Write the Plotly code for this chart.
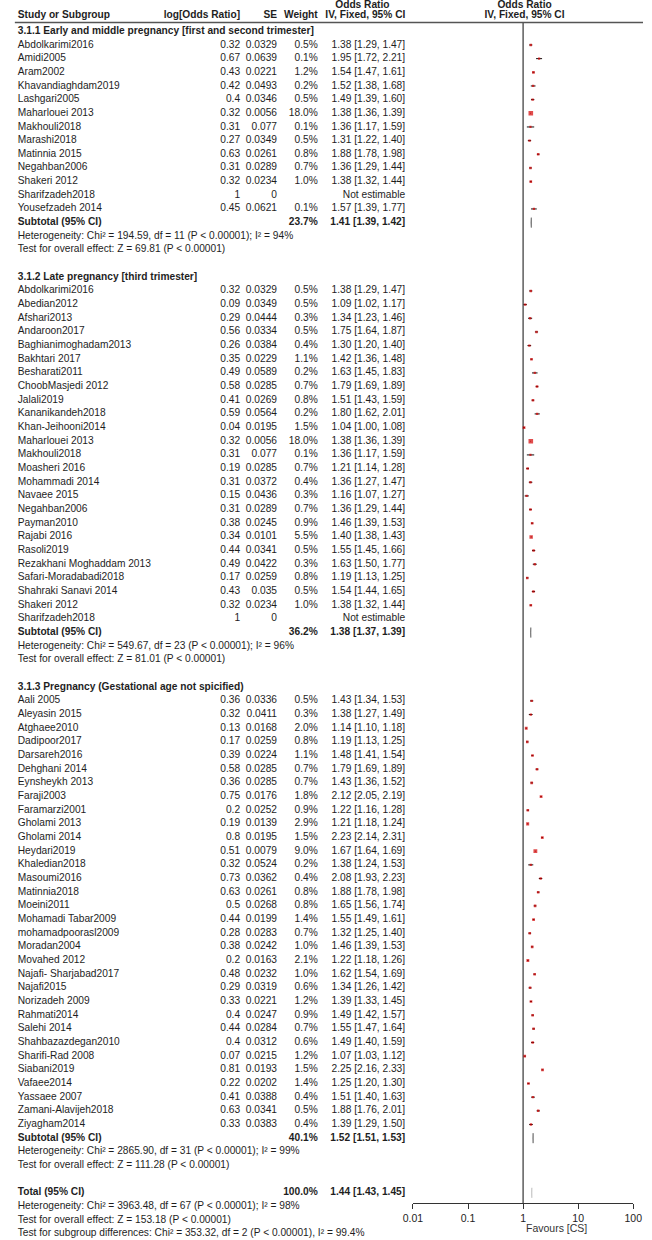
import plotly.graph_objects as go

W, H = 652, 1240

# ---------------- data ----------------
g1_title = "3.1.1 Early and middle pregnancy [first and second trimester]"
g1_study = ["Abdolkarimi2016", "Amidi2005", "Aram2002", "Khavandiaghdam2019", "Lashgari2005",
            "Maharlouei 2013", "Makhouli2018", "Marashi2018", "Matinnia 2015", "Negahban2006",
            "Shakeri 2012", "Sharifzadeh2018", "Yousefzadeh 2014"]
g1_logor = [0.32, 0.67, 0.43, 0.42, 0.4, 0.32, 0.31, 0.27, 0.63, 0.31, 0.32, 1, 0.45]
g1_se = [0.0329, 0.0639, 0.0221, 0.0493, 0.0346, 0.0056, 0.077, 0.0349, 0.0261, 0.0289, 0.0234, 0, 0.0621]
g1_weight = [0.5, 0.1, 1.2, 0.2, 0.5, 18.0, 0.1, 0.5, 0.8, 0.7, 1.0, None, 0.1]
g1_or = [1.38, 1.95, 1.54, 1.52, 1.49, 1.38, 1.36, 1.31, 1.88, 1.36, 1.38, None, 1.57]
g1_lo = [1.29, 1.72, 1.47, 1.38, 1.39, 1.36, 1.17, 1.22, 1.78, 1.29, 1.32, None, 1.39]
g1_hi = [1.47, 2.21, 1.61, 1.68, 1.60, 1.39, 1.59, 1.40, 1.98, 1.44, 1.44, None, 1.77]

g2_title = "3.1.2 Late pregnancy [third trimester]"
g2_study = ["Abdolkarimi2016", "Abedian2012", "Afshari2013", "Andaroon2017", "Baghianimoghadam2013",
            "Bakhtari 2017", "Besharati2011", "ChoobMasjedi 2012", "Jalali2019", "Kananikandeh2018",
            "Khan-Jeihooni2014", "Maharlouei 2013", "Makhouli2018", "Moasheri 2016", "Mohammadi 2014",
            "Navaee 2015", "Negahban2006", "Payman2010", "Rajabi 2016", "Rasoli2019",
            "Rezakhani Moghaddam 2013", "Safari-Moradabadi2018", "Shahraki Sanavi 2014", "Shakeri 2012",
            "Sharifzadeh2018"]
g2_logor = [0.32, 0.09, 0.29, 0.56, 0.26, 0.35, 0.49, 0.58, 0.41, 0.59, 0.04, 0.32, 0.31, 0.19, 0.31,
            0.15, 0.31, 0.38, 0.34, 0.44, 0.49, 0.17, 0.43, 0.32, 1]
g2_se = [0.0329, 0.0349, 0.0444, 0.0334, 0.0384, 0.0229, 0.0589, 0.0285, 0.0269, 0.0564, 0.0195, 0.0056,
         0.077, 0.0285, 0.0372, 0.0436, 0.0289, 0.0245, 0.0101, 0.0341, 0.0422, 0.0259, 0.035, 0.0234, 0]
g2_weight = [0.5, 0.5, 0.3, 0.5, 0.4, 1.1, 0.2, 0.7, 0.8, 0.2, 1.5, 18.0, 0.1, 0.7, 0.4, 0.3, 0.7, 0.9,
             5.5, 0.5, 0.3, 0.8, 0.5, 1.0, None]
g2_or = [1.38, 1.09, 1.34, 1.75, 1.30, 1.42, 1.63, 1.79, 1.51, 1.80, 1.04, 1.38, 1.36, 1.21, 1.36, 1.16,
         1.36, 1.46, 1.40, 1.55, 1.63, 1.19, 1.54, 1.38, None]
g2_lo = [1.29, 1.02, 1.23, 1.64, 1.20, 1.36, 1.45, 1.69, 1.43, 1.62, 1.00, 1.36, 1.17, 1.14, 1.27, 1.07,
         1.29, 1.39, 1.38, 1.45, 1.50, 1.13, 1.44, 1.32, None]
g2_hi = [1.47, 1.17, 1.46, 1.87, 1.40, 1.48, 1.83, 1.89, 1.59, 2.01, 1.08, 1.39, 1.59, 1.28, 1.47, 1.27,
         1.44, 1.53, 1.43, 1.66, 1.77, 1.25, 1.65, 1.44, None]

g3_title = "3.1.3 Pregnancy (Gestational age not spicified)"
g3_study = ["Aali 2005", "Aleyasin 2015", "Atghaee2010", "Dadipoor2017", "Darsareh2016", "Dehghani 2014",
            "Eynsheykh 2013", "Faraji2003", "Faramarzi2001", "Gholami 2013", "Gholami 2014", "Heydari2019",
            "Khaledian2018", "Masoumi2016", "Matinnia2018", "Moeini2011", "Mohamadi Tabar2009",
            "mohamadpoorasl2009", "Moradan2004", "Movahed 2012", "Najafi- Sharjabad2017", "Najafi2015",
            "Norizadeh 2009", "Rahmati2014", "Salehi 2014", "Shahbazazdegan2010", "Sharifi-Rad 2008",
            "Siabani2019", "Vafaee2014", "Yassaee 2007", "Zamani-Alavijeh2018", "Ziyagham2014"]
g3_logor = [0.36, 0.32, 0.13, 0.17, 0.39, 0.58, 0.36, 0.75, 0.2, 0.19, 0.8, 0.51, 0.32, 0.73, 0.63, 0.5,
            0.44, 0.28, 0.38, 0.2, 0.48, 0.29, 0.33, 0.4, 0.44, 0.4, 0.07, 0.81, 0.22, 0.41, 0.63, 0.33]
g3_se = [0.0336, 0.0411, 0.0168, 0.0259, 0.0224, 0.0285, 0.0285, 0.0176, 0.0252, 0.0139, 0.0195, 0.0079,
         0.0524, 0.0362, 0.0261, 0.0268, 0.0199, 0.0283, 0.0242, 0.0163, 0.0232, 0.0319, 0.0221, 0.0247,
         0.0284, 0.0312, 0.0215, 0.0193, 0.0202, 0.0388, 0.0341, 0.0383]
g3_weight = [0.5, 0.3, 2.0, 0.8, 1.1, 0.7, 0.7, 1.8, 0.9, 2.9, 1.5, 9.0, 0.2, 0.4, 0.8, 0.8, 1.4, 0.7, 1.0,
             2.1, 1.0, 0.6, 1.2, 0.9, 0.7, 0.6, 1.2, 1.5, 1.4, 0.4, 0.5, 0.4]
g3_or = [1.43, 1.38, 1.14, 1.19, 1.48, 1.79, 1.43, 2.12, 1.22, 1.21, 2.23, 1.67, 1.38, 2.08, 1.88, 1.65,
         1.55, 1.32, 1.46, 1.22, 1.62, 1.34, 1.39, 1.49, 1.55, 1.49, 1.07, 2.25, 1.25, 1.51, 1.88, 1.39]
g3_lo = [1.34, 1.27, 1.10, 1.13, 1.41, 1.69, 1.36, 2.05, 1.16, 1.18, 2.14, 1.64, 1.24, 1.93, 1.78, 1.56,
         1.49, 1.25, 1.39, 1.18, 1.54, 1.26, 1.33, 1.42, 1.47, 1.40, 1.03, 2.16, 1.20, 1.40, 1.76, 1.29]
g3_hi = [1.53, 1.49, 1.18, 1.25, 1.54, 1.89, 1.52, 2.19, 1.28, 1.24, 2.31, 1.69, 1.53, 2.23, 1.98, 1.74,
         1.61, 1.40, 1.53, 1.26, 1.69, 1.42, 1.45, 1.57, 1.64, 1.59, 1.12, 2.33, 1.30, 1.63, 2.01, 1.50]

sub_weight = [23.7, 36.2, 40.1]
sub_or = [1.41, 1.38, 1.52]
sub_lo = [1.39, 1.37, 1.51]
sub_hi = [1.42, 1.39, 1.53]
sub_het = ["Heterogeneity: Chi² = 194.59, df = 11 (P < 0.00001); I² = 94%",
           "Heterogeneity: Chi² = 549.67, df = 23 (P < 0.00001); I² = 96%",
           "Heterogeneity: Chi² = 2865.90, df = 31 (P < 0.00001); I² = 99%"]
sub_test = ["Test for overall effect: Z = 69.81 (P < 0.00001)",
            "Test for overall effect: Z = 81.01 (P < 0.00001)",
            "Test for overall effect: Z = 111.28 (P < 0.00001)"]

total_weight = 100.0
total_or, total_lo, total_hi = 1.44, 1.43, 1.45
total_notes = ["Heterogeneity: Chi² = 3963.48, df = 67 (P < 0.00001); I² = 98%",
               "Test for overall effect: Z = 153.18 (P < 0.00001)",
               "Test for subgroup differences: Chi² = 353.32, df = 2 (P < 0.00001), I² = 99.4%"]

tick_vals = [0.01, 0.1, 1, 10, 100]
tick_text = ["0.01", "0.1", "1", "10", "100"]
favours_label = "Favours [CS]"

# ---------------- layout helpers ----------------
ROW0, DY = 31.3, 13.665
FONT = "Liberation Sans, Arial, sans-serif"
FS = 10.2
TXT = "#1e1e1e"
AX_Y = 1203          # pixel row of the forest axis

def ry(i):
    return ROW0 + DY * i

COLS = {
    "name": (8, "middle right"),
    "logor": (237, "middle left"),
    "se": (275, "middle left"),
    "w": (317, "middle left"),
    "ci": (407, "middle left"),
}
col_y = {k: [] for k in COLS}
col_t = {k: [] for k in COLS}

def put(col, row, text, bold=False):
    col_y[col].append(ry(row))
    col_t[col].append(f"<b>{text}</b>" if bold else text)

sq_x, sq_y, sq_s = [], [], []
ci_x, ci_y = [], []
diamonds = []

groups = [
    (g1_title, g1_study, g1_logor, g1_se, g1_weight, g1_or, g1_lo, g1_hi),
    (g2_title, g2_study, g2_logor, g2_se, g2_weight, g2_or, g2_lo, g2_hi),
    (g3_title, g3_study, g3_logor, g3_se, g3_weight, g3_or, g3_lo, g3_hi),
]

row = 0
for gi, (title, study, logor, se, wt, orr, lo, hi) in enumerate(groups):
    put("name", row, title, bold=True)
    row += 1
    for j in range(len(study)):
        put("name", row, study[j])
        put("logor", row, f"{logor[j]:g}")
        put("se", row, f"{se[j]:g}")
        if orr[j] is None:
            put("ci", row, "Not estimable")
        else:
            put("w", row, f"{wt[j]:.1f}%")
            put("ci", row, f"{orr[j]:.2f} [{lo[j]:.2f}, {hi[j]:.2f}]")
            sq_x.append(orr[j]); sq_y.append(ry(row))
            sq_s.append(2.0 + 2.6 * (wt[j] / 18.0) ** 0.5)
            ci_x += [lo[j], hi[j], None]
            ci_y += [ry(row), ry(row), None]
        row += 1
    put("name", row, "Subtotal (95% CI)", bold=True)
    put("w", row, f"{sub_weight[gi]:.1f}%", bold=True)
    put("ci", row, f"{sub_or[gi]:.2f} [{sub_lo[gi]:.2f}, {sub_hi[gi]:.2f}]", bold=True)
    diamonds.append((sub_lo[gi], sub_or[gi], sub_hi[gi], ry(row), "#555"))
    row += 1
    put("name", row, sub_het[gi]); row += 1
    put("name", row, sub_test[gi]); row += 1
    row += 1  # blank

put("name", row, "Total (95% CI)", bold=True)
put("w", row, f"{total_weight:.1f}%", bold=True)
put("ci", row, f"{total_or:.2f} [{total_lo:.2f}, {total_hi:.2f}]", bold=True)
diamonds.append((total_lo, total_or, total_hi, ry(row), "#bbb"))
row += 1
for note in total_notes:
    put("name", row, note); row += 1

fig = go.Figure()

for k, (xp, pos) in COLS.items():
    fig.add_trace(go.Scatter(
        x=[xp] * len(col_y[k]), y=col_y[k], text=col_t[k], mode="text",
        textposition=pos, textfont=dict(family=FONT, size=FS, color=TXT),
        xaxis="x2", yaxis="y", hoverinfo="skip", cliponaxis=False))

hdr = [
    (8, 15.5, "Study or Subgroup", "middle right"),
    (237, 15.5, "log[Odds Ratio]", "middle left"),
    (275, 15.5, "SE", "middle left"),
    (317, 15.5, "Weight", "middle left"),
    (366, 15.5, "IV, Fixed, 95% CI", "middle center"),
    (363, 5.8, "Odds Ratio", "middle center"),
    (530, 15.5, "IV, Fixed, 95% CI", "middle center"),
    (530, 5.8, "Odds Ratio", "middle center"),
]
for xp, yp, t, pos in hdr:
    fig.add_trace(go.Scatter(
        x=[xp], y=[yp], text=[f"<b>{t}</b>"], mode="text", textposition=pos,
        textfont=dict(family=FONT, size=FS, color=TXT),
        xaxis="x2", yaxis="y", hoverinfo="skip", cliponaxis=False))

# line of no effect
fig.add_trace(go.Scatter(x=[1, 1], y=[23, AX_Y], mode="lines",
                         line=dict(color="#444", width=1.3), hoverinfo="skip"))
# confidence intervals
fig.add_trace(go.Scatter(x=ci_x, y=ci_y, mode="lines",
                         line=dict(color="#111", width=1), hoverinfo="skip"))
# study squares
fig.add_trace(go.Scatter(x=sq_x, y=sq_y, mode="markers",
                         marker=dict(symbol="square", size=sq_s, color="#d40000",
                                     line=dict(width=0)), hoverinfo="skip"))
# pooled diamonds
for lo, est, hi, yy, col in diamonds:
    fig.add_trace(go.Scatter(x=[lo, est, hi, est, lo], y=[yy, yy - 5, yy, yy + 5, yy],
                             mode="lines", fill="toself", fillcolor=col,
                             line=dict(color=col, width=0.6), hoverinfo="skip"))

# header rule
fig.add_shape(type="line", xref="paper", yref="y", x0=5 / W, x1=1, y0=22.5, y1=22.5,
              line=dict(color="#555", width=1.5))

fig.add_annotation(x=563, y=1228, xref="x2", yref="y", text=favours_label, showarrow=False,
                   font=dict(family=FONT, size=10.5, color="#333"))

fig.update_layout(
    width=W, height=H, margin=dict(l=0, r=0, t=0, b=0),
    paper_bgcolor="white", plot_bgcolor="rgba(0,0,0,0)", showlegend=False,
    xaxis=dict(type="log", range=[-2, 2], domain=[415 / W, 642 / W], anchor="free",
               position=1 - AX_Y / H, showline=True, linecolor="#333", linewidth=1,
               ticks="outside", ticklen=5, tickcolor="#333", tickvals=tick_vals,
               ticktext=tick_text, tickfont=dict(family=FONT, size=10.5, color="#222"),
               showgrid=False, zeroline=False, fixedrange=True),
    xaxis2=dict(range=[0, W], domain=[0, 1], anchor="y", visible=False, fixedrange=True),
    yaxis=dict(range=[H, 0], domain=[0, 1], visible=False, fixedrange=True),
)

fig.write_html("out.html",
               config={"displayModeBar": False, "responsive": False},
               post_script="document.body.style.margin='0px';document.body.style.overflow='hidden';")
